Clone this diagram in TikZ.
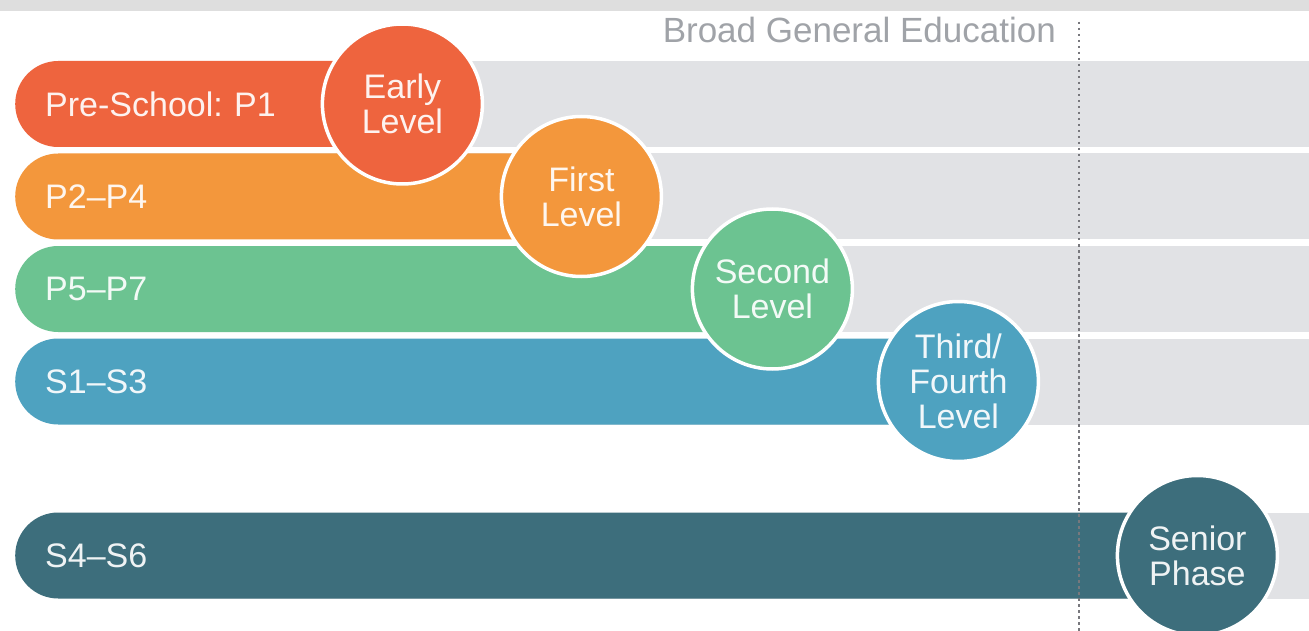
\documentclass[tikz,border=0pt]{standalone}
\usepackage{fontspec}
\setmainfont{Liberation Sans}
\usetikzlibrary{positioning}
\frenchspacing

\definecolor{earlyred}{RGB}{238,100,62}
\definecolor{firstorange}{RGB}{243,151,60}
\definecolor{secondgreen}{RGB}{108,195,145}
\definecolor{thirdblue}{RGB}{78,162,192}
\definecolor{seniorteal}{RGB}{61,110,124}
\definecolor{rowgray}{RGB}{225,226,229}
\definecolor{stripgray}{RGB}{222,222,222}
\definecolor{headgray}{RGB}{160,163,168}
\definecolor{dotgray}{RGB}{120,120,125}

\tikzset{
  stage/.style={rectangle, rounded corners=43pt, minimum height=86pt, inner xsep=30pt, inner ysep=0pt,
    anchor=west, align=left, text width=#1, text=white, text opacity=.92,
    font=\fontsize{34}{35}\selectfont},
  level/.style={circle, draw=white, line width=3.5pt, minimum size=160pt, inner sep=0pt,
    align=center, text=white, text opacity=.92, font=\fontsize{34}{35}\selectfont},
  heading/.style={inner sep=0pt, text=headgray, font=\fontsize{35}{36}\selectfont}
}

\begin{document}
\begin{tikzpicture}[x=1pt, y=-1pt]
    \useasboundingbox[fill=white] (0,0) rectangle (1309,631);
    \fill[stripgray] (0,0) rectangle (1309,11);

    % grey tracks behind the stages
    \foreach \y in {104,196.5,289,381.5,555.5}
        \fill[rowgray] (100,{\y-43}) rectangle (1309,{\y+43});

    \node[stage=327pt, fill=earlyred] (pre) at (15,104) {Pre-School: P1};
    \node[stage=506pt, fill=firstorange] (p24) at (15,196.5) {P2--P4};
    \node[stage=697pt, fill=secondgreen] (p57) at (15,289) {P5--P7};
    \node[stage=883pt, fill=thirdblue] (s13) at (15,381.5) {S1--S3};
    \node[stage=1122pt, fill=seniorteal] (s46) at (15,555.5) {S4--S6};

    % dividing line
    \coordinate (divtop) at (1079,22);
    \coordinate (divbot) at (1079,631);
    \draw[dotgray, line width=2.5pt, dash pattern=on 2.5pt off 3.5pt] (divtop) -- (divbot);
    \node[heading, anchor=east] (bge) at (1056,30) {Broad General Education};

    \node[level, fill=earlyred] (early) at (pre.east) {Early\\Level};
    \node[level, fill=firstorange] (first) at (p24.east) {First\\Level};
    \node[level, fill=secondgreen] (second) at (p57.east) {Second\\Level};
    \node[level, fill=thirdblue] (third) at (s13.east) {Third/\\Fourth\\Level};
    \node[level, fill=seniorteal] (senior) at (s46.east) {Senior\\Phase};
\end{tikzpicture}
\end{document}
